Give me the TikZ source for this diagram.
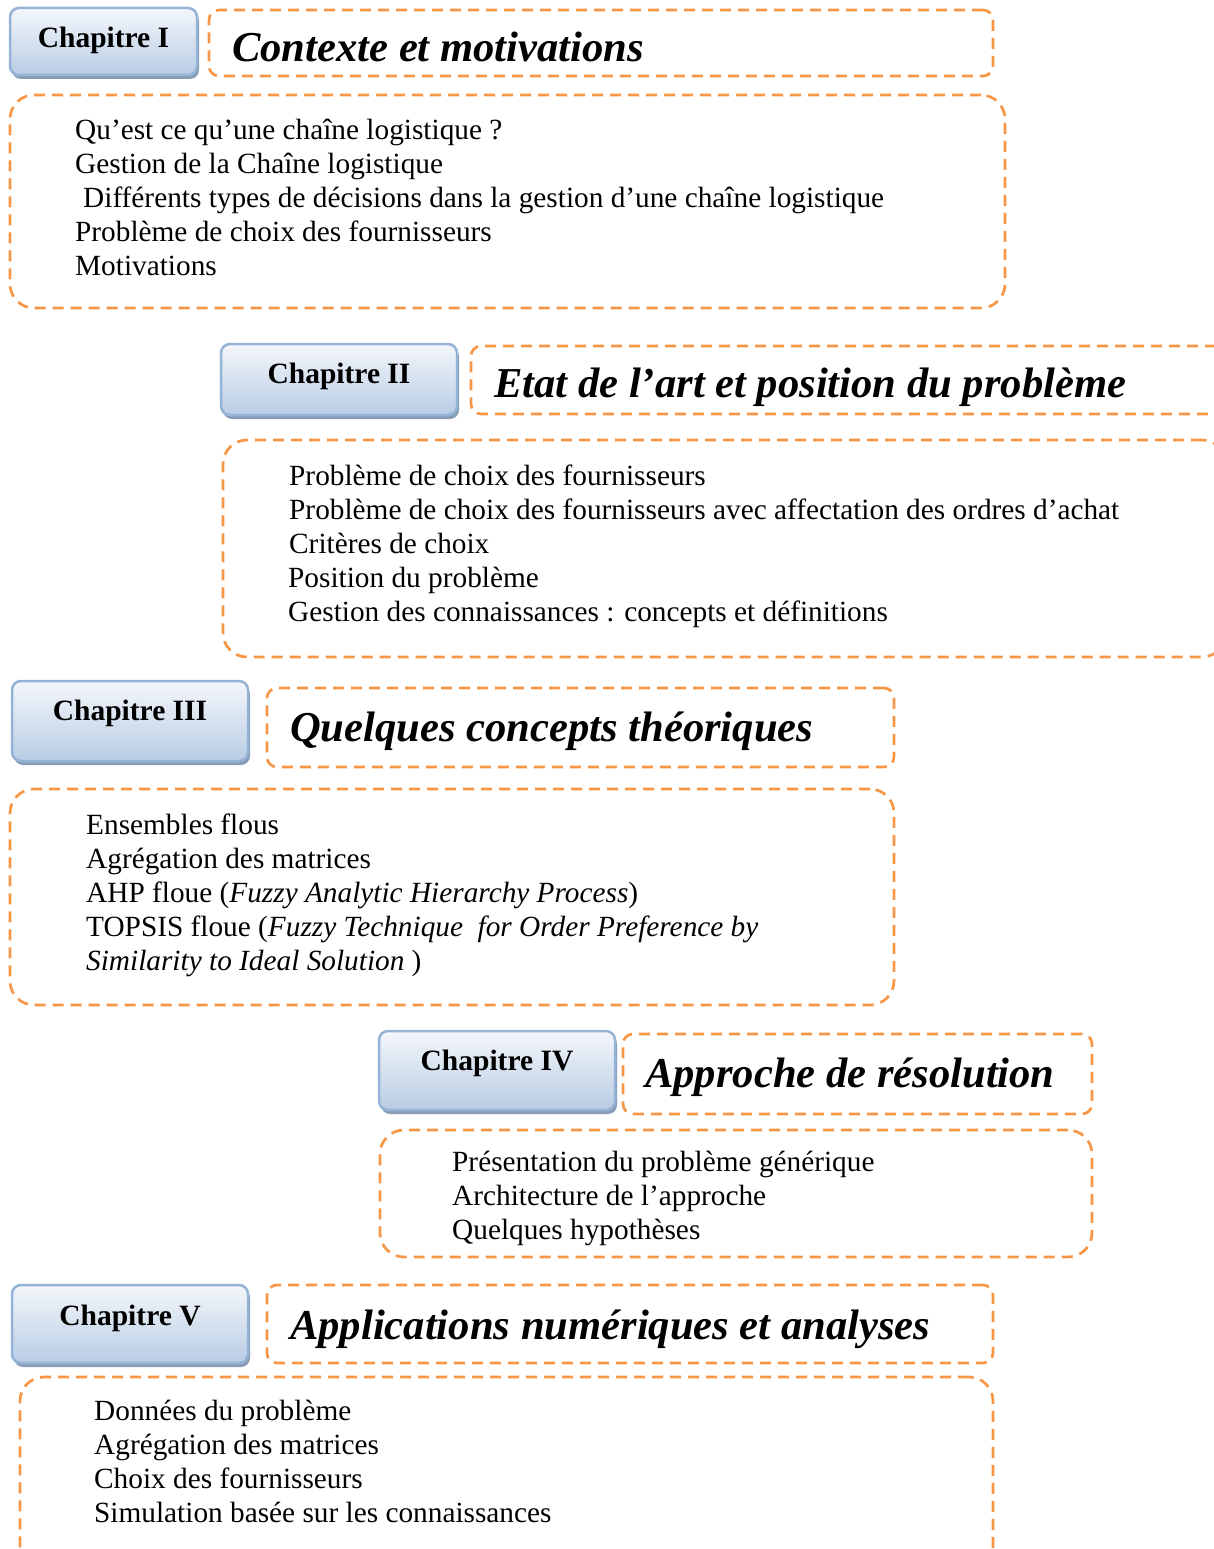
\documentclass[tikz,border=0pt]{standalone}
\usepackage{fontspec}
\setmainfont{Liberation Serif}
\usetikzlibrary{shadows}
\definecolor{dashor}{HTML}{F79646}
\definecolor{chapborder}{HTML}{95B3D7}
\definecolor{chaptop}{HTML}{F4F7FB}
\definecolor{chapbot}{HTML}{B8CCE4}
\definecolor{chapshadow}{HTML}{8A9CB5}
\begin{document}
\begin{tikzpicture}[x=1pt,y=-1pt,
  chapbox/.style={draw=chapborder, line width=2.5pt, rounded corners=9pt,
    top color=chaptop, bottom color=chapbot,
    drop shadow={shadow xshift=2pt, shadow yshift=-4pt, fill=chapshadow, opacity=1},
    inner sep=0pt},
  dashbox/.style={draw=dashor, line width=2.7pt, dash pattern=on 11pt off 7pt, inner sep=0pt},
  titlebox/.style={dashbox, rounded corners=10pt},
  contentbox/.style={dashbox, rounded corners=24pt},
  chaptext/.style={font=\fontsize{29.5}{34}\selectfont\bfseries, anchor=base, inner sep=0pt},
  titletext/.style={font=\fontsize{42.6}{48}\selectfont\bfseries\itshape, anchor=base west, inner sep=0pt},
  itemtext/.style={font=\fontsize{29.3}{34}\selectfont, anchor=north west, inner sep=0pt, align=left},
]
\useasboundingbox (0,0) rectangle (1214,1549);
\clip (0,0) rectangle (1214,1549);

% Chapter I
\node[chapbox, minimum width=187pt, minimum height=67pt] (c1) at (103.5,41.5) {};
\node[chaptext] (c1t) at (103.5,48) {Chapitre I};
\node[titlebox, minimum width=784pt, minimum height=66pt] (t1) at (601,43) {};
\node[titletext] (t1t) at (232,62) {Contexte et motivations};
\node[contentbox, minimum width=995pt, minimum height=213pt] (b1) at (507.5,201.5) {};
\node[itemtext] (b1t) at (75,115) {\strut Qu’est ce qu’une chaîne logistique ?\\
Gestion de la Chaîne logistique\\
\hspace{8pt}Différents types de décisions dans la gestion d’une chaîne logistique\\
Problème de choix des fournisseurs\\
Motivations};

% Chapter II
\node[chapbox, minimum width=236pt, minimum height=71pt] (c2) at (339,379.5) {};
\node[chaptext] (c2t) at (339,383) {Chapitre II};
\node[titlebox, minimum width=755pt, minimum height=68pt] (t2) at (848.5,380) {};
\node[titletext] (t2t) at (494,397) {Etat de l’art et position du problème};
\node[contentbox, minimum width=1003pt, minimum height=217pt] (b2) at (724.5,548.5) {};
\node[itemtext] (b2t) at (289,461) {\strut Problème de choix des fournisseurs\\
Problème de choix des fournisseurs avec affectation des ordres d’achat\\
Critères de choix\\
\hspace{-1pt}Position du problème\\
\hspace{-1pt}Gestion des connaissances : concepts et définitions};

% Chapter III
\node[chapbox, minimum width=236pt, minimum height=80pt] (c3) at (130,721) {};
\node[chaptext] (c3t) at (130,720) {Chapitre III};
\node[titlebox, minimum width=627pt, minimum height=79pt] (t3) at (580.5,727.5) {};
\node[titletext] (t3t) at (290,741) {Quelques concepts théoriques};
\node[contentbox, minimum width=884pt, minimum height=216pt] (b3) at (452,897) {};
\node[itemtext] (b3t) at (86,810) {\strut Ensembles flous\\
Agrégation des matrices\\
AHP floue (\textit{Fuzzy Analytic Hierarchy Process})\\
TOPSIS floue (\textit{Fuzzy Technique\ \ for Order Preference by}\\
\textit{Similarity to Ideal Solution} )};

% Chapter IV
\node[chapbox, minimum width=236pt, minimum height=79pt] (c4) at (497,1070.5) {};
\node[chaptext] (c4t) at (497,1070) {Chapitre IV};
\node[titlebox, minimum width=469pt, minimum height=80pt] (t4) at (857.5,1074) {};
\node[titletext] (t4t) at (645,1087) {Approche de résolution};
\node[contentbox, minimum width=712pt, minimum height=127pt] (b4) at (736,1193.5) {};
\node[itemtext] (b4t) at (452,1147) {\strut Présentation du problème générique\\
Architecture de l’approche\\
Quelques hypothèses};

% Chapter V
\node[chapbox, minimum width=236pt, minimum height=78pt] (c5) at (130,1324) {};
\node[chaptext] (c5t) at (130,1325) {Chapitre V};
\node[titlebox, minimum width=726pt, minimum height=78pt] (t5) at (630,1324) {};
\node[titletext] (t5t) at (290,1339) {Applications numériques et analyses};
\node[contentbox, minimum width=973pt, minimum height=193pt] (b5) at (506.5,1473.5) {};
\node[itemtext] (b5t) at (94,1396) {\strut Données du problème\\
Agrégation des matrices\\
Choix des fournisseurs\\
Simulation basée sur les connaissances};
\end{tikzpicture}
\end{document}
